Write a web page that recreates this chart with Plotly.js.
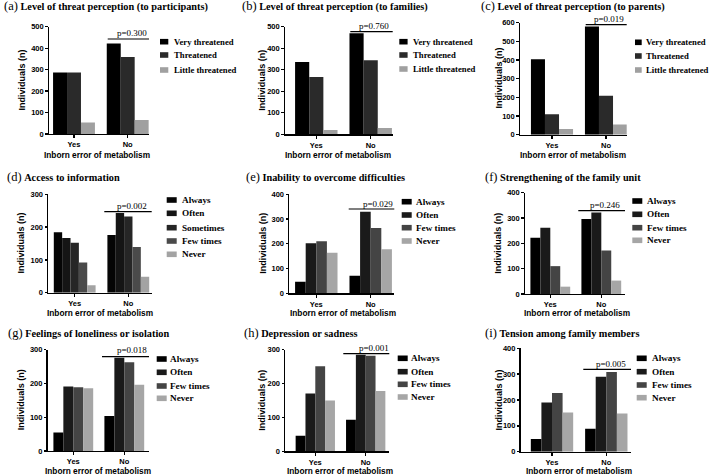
<!DOCTYPE html>
<html><head><meta charset="utf-8">
<script src="https://cdn.plot.ly/plotly-3.0.1.min.js"></script>
<style>body{margin:0;background:#fff}#chart{width:709px;height:476px}</style>
</head><body><div id="chart"></div>
<script>
// ---- data ----
const categories = ['Yes', 'No'];
const threatLevels = ['Very threatened', 'Threatened', 'Little threatened'];
const freq5 = ['Always', 'Often', 'Sometimes', 'Few times', 'Never'];
const freq4 = ['Always', 'Often', 'Few times', 'Never'];
const panelLetters = ['(a)', '(b)', '(c)', '(d)', '(e)', '(f)', '(g)', '(h)', '(i)'];
const panelTitles = ['Level of threat perception (to participants)', 'Level of threat perception (to families)',
  'Level of threat perception (to parents)', 'Access to information', 'Inability to overcome difficulties',
  'Strengthening of the family unit', 'Feelings of loneliness or isolation', 'Depression or sadness',
  'Tension among family members'];
const xTitle = 'Inborn error of metabolism';
const yTitle = 'Individuals (n)';
const pValues = ['p=0.300', 'p=0.760', 'p=0.019', 'p=0.002', 'p=0.029', 'p=0.246', 'p=0.018', 'p=0.001', 'p=0.005'];
const yMax = [500, 500, 600, 300, 400, 400, 300, 300, 400];

const aYes = [287, 287, 54], aNo = [422, 359, 65];
const bYes = [336, 266, 20], bNo = [469, 344, 29];
const cYes = [404, 109, 30], cNo = [579, 209, 55];
const dYes = [184, 167, 152, 92, 23], dNo = [176, 243, 232, 139, 49];
const eYes = [47, 202, 210, 164], eNo = [71, 329, 264, 178];
const fYes = [222, 262, 110, 29], fNo = [296, 322, 172, 53];
const gYes = [55, 191, 189, 186], gNo = [104, 276, 263, 196];
const hYes = [46, 171, 251, 150], hNo = [93, 285, 282, 178];
const iYes = [49, 190, 227, 152], iNo = [89, 290, 308, 148];

const panelSeries = [threatLevels, threatLevels, threatLevels, freq5, freq4, freq4, freq4, freq4, freq4];
const panelYes = [aYes, bYes, cYes, dYes, eYes, fYes, gYes, hYes, iYes];
const panelNo = [aNo, bNo, cNo, dNo, eNo, fNo, gNo, hNo, iNo];

// ---- styles / layout geometry (pixels) ----
const colors3 = ['#000000', '#2a2a2a', '#a0a0a0'];
const colors5 = ['#050505', '#151515', '#262626', '#4a4a4a', '#a3a3a3'];
const colors4 = ['#000000', '#1a1a1a', '#444444', '#a6a6a6'];
const W = 709, H = 476;
const geo = [
  {x0:49, x1:149, top:26.7, bot:134, yes:74, no:127.7, tx:2, ty:6.5, lx:160, lw:8.3, ltx:172, rows:[41.7,55,70], pl:[107.7,149,39], pt:[132,33], yt:[21.5,80], xt:[97,155]},
  {x0:285, x1:392.7, top:26.7, bot:134.3, yes:316.3, no:370.7, tx:240, ty:6.5, lx:399.3, lw:8.3, ltx:411, rows:[41.7,55,69], pl:[350.3,392.7,31.7], pt:[373.8,26], yt:[261.7,80], xt:[337.7,155]},
  {x0:520, x1:626.7, top:22.7, bot:134.7, yes:552, no:606, tx:479.3, ty:6.5, lx:635, lw:6.7, ltx:644, rows:[42.3,56,70], pl:[585.7,626.7,24.7], pt:[608.8,19], yt:[498.5,78], xt:[573.3,155]},
  {x0:48.3, x1:151.7, top:194.3, bot:292.7, yes:74.7, no:128.3, tx:5, ty:176.7, lx:166.7, lw:10, ltx:180, rows:[200,213.3,227.7,241,254.3], pl:[104.3,151.7,211.7], pt:[132.2,206], yt:[21.2,243.3], xt:[100,313]},
  {x0:289.3, x1:394.3, top:194.3, bot:293.3, yes:316.3, no:370.7, tx:244, ty:176.7, lx:401.7, lw:10, ltx:414.3, rows:[201.7,215,227.7,241], pl:[348.7,394.3,209], pt:[377.7,204], yt:[263.5,243.3], xt:[342.7,313]},
  {x0:525, x1:625, top:192.7, bot:294, yes:550.3, no:601.3, tx:483.3, ty:176.7, lx:632.3, lw:10, ltx:645, rows:[201,214.3,227.7,240.3], pl:[578.3,625,210.7], pt:[605.3,205], yt:[498.5,243.3], xt:[576.7,313]},
  {x0:47.7, x1:149, top:349.7, bot:451, yes:73.3, no:124.3, tx:5.7, ty:333, lx:156.7, lw:10, ltx:168.3, rows:[359,372.3,386,398.3], pl:[102,149,356.7], pt:[132,350.3], yt:[21.2,400], xt:[97.5,471]},
  {x0:285.3, x1:389.3, top:349.7, bot:451.3, yes:315.3, no:365.7, tx:242, ty:333, lx:397.7, lw:10, ltx:409.3, rows:[358.3,371.7,384.3,397], pl:[343.3,389.3,353.7], pt:[373.8,348.3], yt:[261.7,400], xt:[340,471]},
  {x0:520.7, x1:631, top:348.3, bot:451.7, yes:552, no:606.3, tx:483.3, ty:333, lx:636.7, lw:10, ltx:650, rows:[358.3,371.7,385,397.7], pl:[583.3,631,369.3], pt:[611.3,364.3], yt:[498.5,400], xt:[579,471]}
];
const px = x => x / W, py = y => 1 - y / H;
const sans = '"Liberation Sans", Arial, sans-serif';
const serif = '"Liberation Serif", "Times New Roman", serif';

const traces = [], annotations = [], shapes = [];
const layout = {
  width: W, height: H, margin: {l:0, r:0, t:0, b:0}, paper_bgcolor: '#fff', plot_bgcolor: 'rgba(0,0,0,0)',
  barmode: 'group', bargap: 0.22, bargroupgap: 0, showlegend: false,
  font: {family: sans, color: '#000'}
};

geo.forEach((g, k) => {
  const n = k === 0 ? '' : String(k + 1);
  const names = panelSeries[k];
  const cols = names.length === 3 ? colors3 : (names.length === 5 ? colors5 : colors4);
  const legSize = names.length === 3 ? 8.7 : 9.2;
  names.forEach((nm, s) => {
    traces.push({type: 'bar', name: nm, x: categories, y: [panelYes[k][s], panelNo[k][s]],
      xaxis: 'x' + n, yaxis: 'y' + n, marker: {color: cols[s], line: {width: 0}}, hoverinfo: 'x+y+name'});
    // manual legend
    shapes.push({type: 'rect', xref: 'paper', yref: 'paper', x0: px(g.lx), x1: px(g.lx + g.lw),
      y0: py(g.rows[s] + 2.8), y1: py(g.rows[s] - 2.8), fillcolor: cols[s], line: {width: 0}});
    annotations.push({xref: 'paper', yref: 'paper', x: px(g.ltx), y: py(g.rows[s]), xanchor: 'left', yanchor: 'middle',
      text: '<b>' + nm + '</b>', showarrow: false, font: {family: serif, size: legSize, color: '#000'}});
  });
  const sp = g.no - g.yes;
  layout['xaxis' + n] = {
    domain: [px(g.x0), px(g.x1)], anchor: 'y' + n, type: 'category',
    range: [(g.x0 - g.yes) / sp, 1 + (g.x1 - g.no) / sp],
    showline: true, linecolor: '#000', linewidth: 1.3, ticks: 'outside', ticklen: 3, tickwidth: 1.3, tickcolor: '#000',
    showgrid: false, zeroline: false, fixedrange: true,
    tickfont: {family: sans, size: 7.5, weight: 700, color: '#000'}
  };
  layout['yaxis' + n] = {
    domain: [py(g.bot), py(g.top)], anchor: 'x' + n, range: [0, yMax[k]], dtick: 100, tick0: 0,
    showline: true, linecolor: '#000', linewidth: 1.3, ticks: 'outside', ticklen: 2.5, tickwidth: 1.3, tickcolor: '#000',
    showgrid: false, zeroline: false, fixedrange: true,
    tickfont: {family: sans, size: 7.5, weight: 700, color: '#000'}
  };
  // axis titles
  annotations.push({xref: 'paper', yref: 'paper', x: px(g.xt[0]), y: py(g.xt[1]), xanchor: 'center', yanchor: 'middle', showarrow: false,
    text: '<b>' + xTitle + '</b>', font: {family: sans, size: 8.3, color: '#000'}});
  annotations.push({xref: 'paper', yref: 'paper', x: px(g.yt[0]), y: py(g.yt[1]), xanchor: 'center', yanchor: 'middle', showarrow: false,
    textangle: -90, text: '<b>' + yTitle + '</b>', font: {family: sans, size: 9, color: '#000'}});
  // panel title
  annotations.push({xref: 'paper', yref: 'paper', x: px(g.tx), y: py(g.ty), xanchor: 'left', yanchor: 'middle', showarrow: false,
    text: '<span style="font-size:12.5px">' + panelLetters[k] + '</span> <b>' + panelTitles[k] + '</b>',
    font: {family: serif, size: 10.3, color: '#000'}});
  // p-value bracket
  shapes.push({type: 'line', xref: 'paper', yref: 'paper', x0: px(g.pl[0]), x1: px(g.pl[1]), y0: py(g.pl[2]), y1: py(g.pl[2]),
    line: {color: '#000', width: 1.2}});
  annotations.push({xref: 'paper', yref: 'paper', x: px(g.pt[0]), y: py(g.pt[1]), xanchor: 'center', yanchor: 'middle', showarrow: false,
    text: pValues[k], font: {family: serif, size: 9, color: '#000'}});
});
layout.annotations = annotations;
layout.shapes = shapes;
Plotly.newPlot('chart', traces, layout, {displayModeBar: false, staticPlot: true});
</script></body></html>
